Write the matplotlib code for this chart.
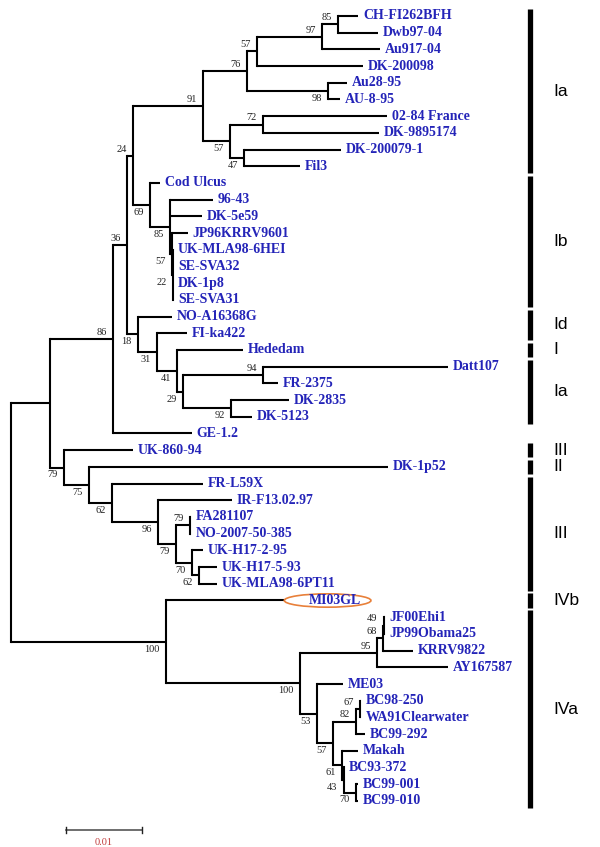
import matplotlib
matplotlib.use('Agg')
import matplotlib.pyplot as plt
from matplotlib.patches import Ellipse

# tree in newick, branch lengths in substitutions/site, bootstrap as node labels
clade_Ia = ("((((CH-FI262BFH:0.00263,Dwb97-04:0.00526)85:0.00211,Au917-04:0.00763)97:0.00855,"
            "DK-200098:0.01395)57:0.00132,(Au28-95:0.0025,AU-8-95:0.00158)98:0.01066)76:0.00579")
clade_Ia2 = ("((02-84 France:0.01632,DK-9895174:0.01526)72:0.00434,"
             "(DK-200079-1:0.01276,Fil3:0.00737)47:0.00184)57:0.00355")
clade_Ib = ("(Cod Ulcus:0.00132,(96-43:0.00566,DK-5e59:0.00421,(JP96KRRV9601:0.00211,"
            "(UK-MLA98-6HEI:0,SE-SVA32:0,DK-1p8:0,SE-SVA31:0)22:0.00013)57:0.00026)85:0.00263)69:0.00224")
clade_Id = ("(NO-A16368G:0.00447,(FI-ka422:0.00395,(Hededam:0.00868,((Datt107:0.02434,FR-2375:0.00197)94:0.01053,"
            "(DK-2835:0.00763,DK-5123:0.00276)92:0.00632)29:0.00079)41:0.00263)31:0.0025)18:0.00145")
clade_III = ("(UK-860-94:0.00908,(DK-1p52:0.03934,(FR-L59X:0.01197,(IR-F13.02.97:0.00974,"
             "((FA281107:0.00013,NO-2007-50-385:0.00013)79:0.00184,(UK-H17-2-95:0.00145,"
             "(UK-H17-5-93:0.00237,UK-MLA98-6PT11:0.00237)62:0.00092)70:0.00211)79:0.00237)96:0.00605)62:0.00303)75:0.00329)79:0.00184")
clade_IVa = ("((((JF00Ehi1:0.00013,JP99Obama25:0.00013)49:0.00013,KRRV9822:0.00395)68:0.00079,AY167587:0.00934)95:0.01013,"
             "(ME03:0.00342,(((BC98-250:0.00013,WA91Clearwater:0.00013)67:0.00053,BC99-292:0.00118)82:0.00303,"
             "(Makah:0.00211,(BC93-372:0,(BC99-001:0.00026,BC99-010:0.00026)70:0.00164)43:0.0002)61:0.00118)57:0.00211)53:0.00224)100:0.01763")

newick = ("((((((" + clade_Ia + "," + clade_Ia2 + ")91:0.00921," + clade_Ib + ")24:0.00079,"
          + clade_Id + ")36:0.00184,GE-1.2:0.01039)86:0.00829," + clade_III + "):0.00513,"
          "(MI03GL:0.01737," + clade_IVa + ")100:0.02039);")

# genogroup bars: label, first tip, last tip
group_labels = ['Ia', 'Ib', 'Id', 'I', 'Ia', 'III', 'II', 'III', 'IVb', 'IVa']
group_first = ['CH-FI262BFH', 'Cod Ulcus', 'NO-A16368G', 'Hededam', 'Datt107', 'UK-860-94',
               'DK-1p52', 'FR-L59X', 'MI03GL', 'JF00Ehi1']
group_last = ['Fil3', 'SE-SVA31', 'FI-ka422', 'Hededam', 'DK-5123', 'UK-860-94',
              'DK-1p52', 'UK-MLA98-6PT11', 'MI03GL', 'BC99-010']

scale_len = 0.01
highlight = 'MI03GL'


def parse(s):
    pos = 0

    def node():
        nonlocal pos
        kids = []
        if s[pos] == '(':
            pos += 1
            while True:
                kids.append(node())
                if s[pos] == ',':
                    pos += 1
                    continue
                if s[pos] == ')':
                    pos += 1
                    break
        start = pos
        while s[pos] not in ':,);':
            pos += 1
        label = s[start:pos].strip()
        length = 0.0
        if s[pos] == ':':
            pos += 1
            start = pos
            while s[pos] not in ',);':
                pos += 1
            length = float(s[start:pos])
        return {'label': label, 'len': length, 'kids': kids}

    return node()


tree = parse(newick)
tips = []


def layout(n, x0):
    n['x'] = x0 + n['len']
    if not n['kids']:
        n['y'] = len(tips)
        tips.append(n)
    else:
        for k in n['kids']:
            layout(k, n['x'])
        n['y'] = (n['kids'][0]['y'] + n['kids'][-1]['y']) / 2.0


layout(tree, 0.0)
tip_y = {t['label']: t['y'] for t in tips}
tip_x = {t['label']: t['x'] for t in tips}

fig = plt.figure(figsize=(6, 8.47), dpi=100)
ax = fig.add_axes([0, 0, 1, 1])
ax.set_xlim(-11 / 7600, 589 / 7600)
ax.set_ylim(831 / 16.7, -16 / 16.7)
ax.axis('off')

blue = '#2424b8'
serif = 'Liberation Serif'


def draw(n, first=True):
    if n['kids']:
        ax.plot([n['x'], n['x']], [n['kids'][0]['y'], n['kids'][-1]['y']],
                color='black', lw=1.5, solid_capstyle='projecting', zorder=2)
        for i, k in enumerate(n['kids']):
            ax.plot([n['x'], k['x']], [k['y'], k['y']], color='black', lw=1.5,
                    solid_capstyle='butt', zorder=2)
            draw(k, i == 0)
        if n['label']:
            if first:
                ax.annotate(n['label'], (n['x'], n['y']), xytext=(-4.5, 1.5),
                            textcoords='offset points', ha='right', va='bottom',
                            fontsize=7.5, family=serif, color='#222222')
            else:
                ax.annotate(n['label'], (n['x'], n['y']), xytext=(-4.5, -2),
                            textcoords='offset points', ha='right', va='top',
                            fontsize=7.5, family=serif, color='#222222')
    else:
        dx = 8 if n['label'] == highlight else 3.5
        ax.annotate(n['label'], (n['x'], n['y']), xytext=(dx, 0),
                    textcoords='offset points', ha='left', va='center',
                    fontsize=10, family=serif, weight='bold', color=blue, zorder=4)


draw(tree)

# circle around the new isolate
ax.add_patch(Ellipse((tip_x[highlight] + 0.0039, tip_y[highlight]), 0.0114, 0.8,
                     facecolor='white', edgecolor='#e8803a', lw=1.2, zorder=3))

# genogroup bars
bar_x = 519 / 7600
for lab, a, b in zip(group_labels, group_first, group_last):
    y0, y1 = tip_y[a] - 0.42, tip_y[b] + 0.42
    ax.plot([bar_x, bar_x], [y0, y1], color='black', lw=3.8, solid_capstyle='butt')
    ax.text(bar_x + 23 / 7600, (y0 + y1) / 2, lab, ha='left', va='center',
            fontsize=12.5, family='Liberation Sans', color='black')

# scale bar
sx = 55 / 7600
sy = 814 / 16.7
ax.plot([sx, sx + scale_len], [sy, sy], color='#555555', lw=1.2)
for xx in (sx, sx + scale_len):
    ax.plot([xx, xx], [sy - 0.2, sy + 0.2], color='#222222', lw=1)
ax.text(sx + scale_len / 2, sy + 0.45, '0.01', ha='center', va='top',
        fontsize=7.5, family=serif, color='#c03a3a')

fig.savefig('out.png', dpi=100, facecolor='white')
